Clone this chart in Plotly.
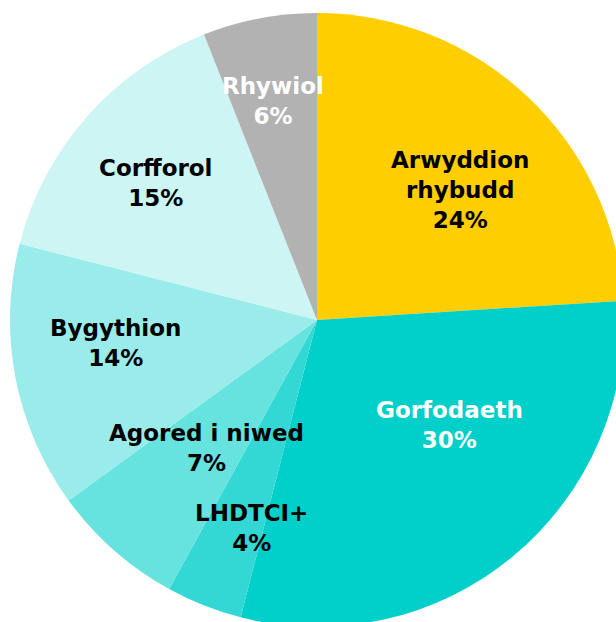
import math
import plotly.graph_objects as go

# ---- data ----
categories = ["Arwyddion rhybudd", "Gorfodaeth", "LHDTCI+", "Agored i niwed",
              "Bygythion", "Corfforol", "Rhywiol"]
label_lines = ["Arwyddion<br>rhybudd", "Gorfodaeth", "LHDTCI+", "Agored i niwed",
               "Bygythion", "Corfforol", "Rhywiol"]
values = [24, 30, 4, 7, 14, 15, 6]

# ---- style ----
colors = ["#FFCE00", "#00CFCA", "#33D8D4", "#66E2DF", "#99ECEA", "#CCF5F4", "#B2B2B2"]
text_colors = ["#000000", "#FFFFFF", "#000000", "#000000", "#000000", "#000000", "#FFFFFF"]
label_radius = [0.629, 0.55, 0.71, 0.55, 0.661, 0.69, 0.727]   # fraction of pie radius
label_nudge_deg = [4.5, -11.9, -4.0, -0.7, 4.3, -1.2, -0.6]

W, H = 630, 630
CX, CY, R = 317, 320, 307  # pixel centre and radius of the pie

fig = go.Figure(go.Pie(
    labels=categories,
    values=values,
    sort=False,
    direction="clockwise",
    rotation=0,
    marker=dict(colors=colors, line=dict(color="#FFFFFF", width=0)),
    textinfo="none",
    hoverinfo="label+percent",
    showlegend=False,
    domain=dict(x=[(CX - R) / W, (CX + R) / W],
                y=[(H - CY - R) / H, (H - CY + R) / H]),
))

total = sum(values)
cum = 0
for lab, v, tc, rf, nd in zip(label_lines, values, text_colors, label_radius, label_nudge_deg):
    theta = math.radians(360 * (cum + v / 2) / total + nd)
    cum += v
    px = CX + rf * R * math.sin(theta)
    py = CY - rf * R * math.cos(theta)
    fig.add_annotation(
        x=px / W, y=1 - py / H, xref="paper", yref="paper",
        text=f"{lab}<br>{round(100 * v / total)}%",
        showarrow=False, xanchor="center", yanchor="middle",
        font=dict(family="DejaVu Sans", size=23, color=tc, weight="bold"),
        align="center",
    )

fig.update_layout(
    width=W, height=H, autosize=False,
    margin=dict(l=0, r=0, t=0, b=0),
    paper_bgcolor="#FFFFFF", plot_bgcolor="#FFFFFF",
)

fig.write_html(
    "out.html",
    config={"displayModeBar": False},
    post_script="document.body.style.margin='0';document.body.style.overflow='hidden';"
                "document.documentElement.style.overflow='hidden';",
)
